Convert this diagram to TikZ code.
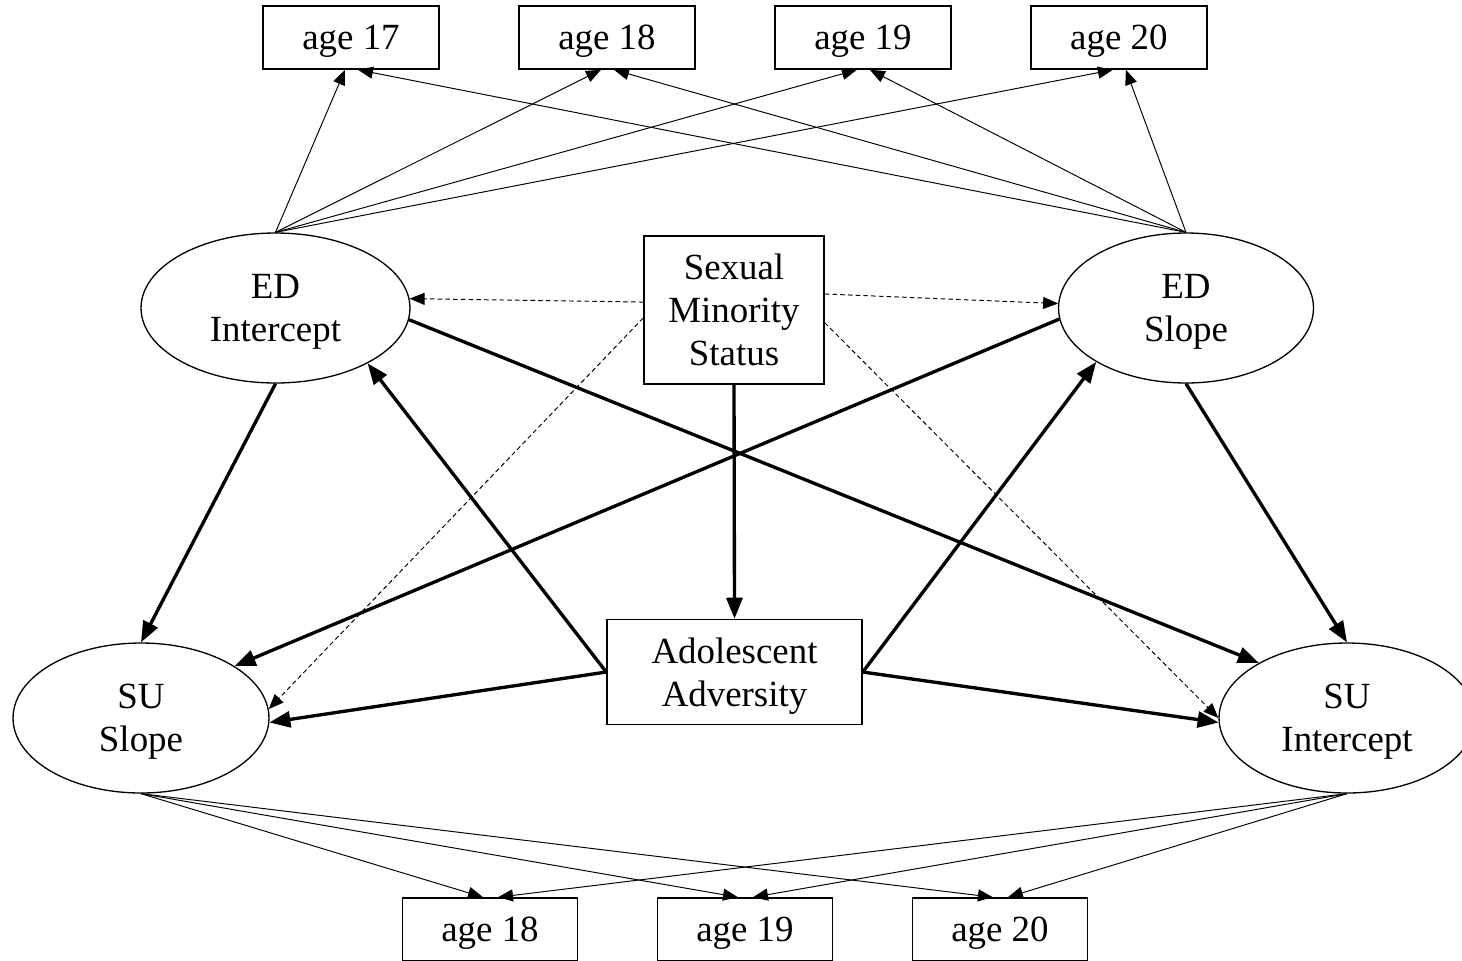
\documentclass[tikz,border=0pt]{standalone}
\usepackage{fontspec}
\setmainfont{Liberation Serif}
\usetikzlibrary{arrows.meta,shapes.geometric}

\tikzset{
  obs/.style={draw, line width=0.9pt, rectangle, minimum width=3.52cm, minimum height=1.26cm, inner sep=0pt, align=center, text depth=0pt},
  lat/.style={draw, line width=0.75pt, ellipse, minimum width=5.12cm, minimum height=3cm, inner sep=0pt, align=center, text depth=0pt},
  load/.style={line width=0.55pt, -{Triangle[length=0.3cm,width=0.24cm]}},
  reg/.style={line width=1.9pt, -{Triangle[length=0.42cm,width=0.32cm]}},
  cov/.style={line width=0.55pt, dash pattern=on 2.6pt off 1.8pt, -{Triangle[length=0.3cm,width=0.24cm]}}
}

\begin{document}
\begin{tikzpicture}[x=0.02cm, y=-0.02cm, font=\fontsize{21}{24.4}\selectfont]
      \useasboundingbox (0,0) rectangle (1462,960);

      \node [obs] (t17) at (351,37.5) {age 17};
      \node [obs, right of=t17, node distance=5.12cm] (t18) {age 18};
      \node [obs, right of=t18, node distance=5.12cm] (t19) {age 19};
      \node [obs, right of=t19, node distance=5.12cm] (t20) {age 20};

      \node [lat, minimum width=5.38cm] (edi) at (275.5,308) {ED\\Intercept};
      \node [lat, minimum width=5.1cm] (eds) at (1186,308) {ED\\Slope};
      \node [lat] (sus) at (141,718) {SU\\Slope};
      \node [lat] (sui) at (1347,718) {SU\\Intercept};

      \node [obs, minimum width=3.6cm, minimum height=2.96cm] (sms) at (734,310) {Sexual\\Minority\\Status};
      \node [obs, minimum width=5.1cm, minimum height=2.1cm] (adv) at (734.5,672) {Adolescent\\Adversity};

      \node [obs, minimum width=3.5cm] (b18) at (490,929.5) {age 18};
      \node [obs, minimum width=3.5cm, right of=b18, node distance=5.1cm] (b19) {age 19};
      \node [obs, minimum width=3.5cm, right of=b19, node distance=5.1cm] (b20) {age 20};

      % growth factor loadings
      \foreach \t in {t17,t18,t19,t20} {
        \draw[load] (edi.north) -- ([xshift=-0.12cm]\t.south);
        \draw[load] (eds.north) -- ([xshift=0.14cm]\t.south);
      }
      \foreach \b in {b18,b19,b20} {
        \draw[load] (sus.south) -- ([xshift=-0.14cm]\b.north);
        \draw[load] (sui.south) -- ([xshift=0.16cm]\b.north);
      }

      % structural paths
      \draw[reg] (edi.south) -- (sus.north);
      \draw[reg] (eds.south) -- (sui.north);
      \draw[reg] (edi.-5) -- (sui.148);
      \draw[reg] (eds.185) -- (sus.29);
      \draw[reg] (sms.south) -- (adv.north);
      \draw[reg] (adv.west) -- (edi.-31);
      \draw[reg] (adv.west) -- (sus.-2);
      \draw[reg] (adv.east) -- (eds.211);
      \draw[reg] (adv.east) -- (sui.-178);

      % sexual minority status
      \draw[cov] (sms.175) -- (edi.4);
      \draw[cov] (sms.10) -- (eds.178);
      \draw[cov] (sms.-175) -- (sus.4);
      \draw[cov] (sms.-8) -- (sui.180);
    \end{tikzpicture}
\end{document}
